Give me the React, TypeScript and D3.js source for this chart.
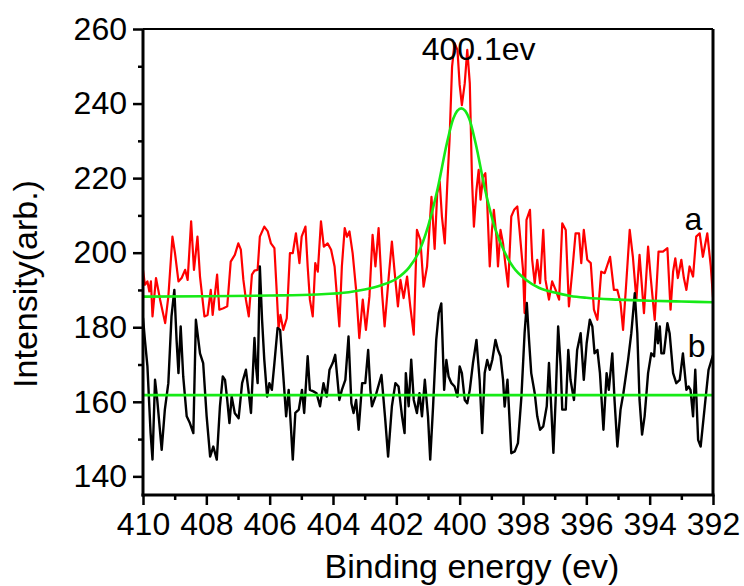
import React, { useEffect, useRef } from 'react';
import * as d3 from 'd3';

// binding energy (eV) vs intensity
const xTicks = [410, 408, 406, 404, 402, 400, 398, 396, 394, 392];
const xMinorTicks = [409, 407, 405, 403, 401, 399, 397, 395, 393];
const yTicks = [140, 160, 180, 200, 220, 240, 260];
const yMinorTicks = [150, 170, 190, 210, 230, 250];

const seriesA: [number, number][] = [
  [410.0, 195.4], [409.94, 191.4], [409.86, 192.3], [409.8, 189.6], [409.75, 192.3], [409.7, 182.9],
  [409.59, 193.2], [409.46, 187.4], [409.3, 181.1], [409.2, 188.2], [409.07, 204.3], [408.99, 199.9],
  [408.88, 192.3], [408.78, 193.2], [408.67, 195.4], [408.59, 192.7], [408.48, 208.4], [408.39, 195.4],
  [408.28, 204.3], [408.2, 193.6], [408.06, 182.9], [407.96, 183.3], [407.86, 190], [407.8, 183.3],
  [407.66, 194.1], [407.59, 184.7], [407.46, 185.1], [407.34, 185.6], [407.23, 197.6], [407.1, 199.4],
  [406.99, 202.5], [406.91, 200.8], [406.83, 192.7], [406.75, 187.4], [406.66, 182.9], [406.56, 194.1],
  [406.48, 195.2], [406.38, 195.4], [406.31, 204.3], [406.17, 207], [406.06, 205.7], [405.96, 202.5],
  [405.85, 201.2], [405.78, 190], [405.72, 179.8], [405.66, 183.3], [405.57, 179.3], [405.46, 182.4],
  [405.36, 199.9], [405.27, 199.9], [405.17, 205.2], [405.06, 197.2], [404.99, 204.3], [404.87, 207],
  [404.8, 196.3], [404.73, 187.4], [404.64, 182.9], [404.56, 197.2], [404.48, 194.9], [404.38, 208.4],
  [404.29, 201.6], [404.17, 202.5], [404.06, 200.8], [403.95, 196.3], [403.8, 180.2], [403.72, 196.3],
  [403.63, 206.6], [403.56, 204.3], [403.48, 205.7], [403.38, 199.9], [403.27, 190], [403.17, 177.1],
  [403.06, 187.4], [402.96, 179.3], [402.85, 188.2], [402.75, 204.8], [402.66, 196.3], [402.56, 206.6],
  [402.45, 189.1], [402.37, 180.2], [402.24, 193.6], [402.14, 203], [402.06, 195.4], [401.95, 185.6],
  [401.87, 192.7], [401.77, 187.8], [401.66, 193.6], [401.56, 185.6], [401.45, 178], [401.35, 206.1],
  [401.24, 203.4], [401.14, 190.9], [401.03, 196.3], [400.93, 209.7], [400.89, 215], [400.79, 201],
  [400.71, 215.9], [400.63, 219], [400.56, 209.7], [400.47, 202.5], [400.39, 218.6], [400.32, 230.2],
  [400.24, 249.9], [400.16, 256.2], [400.07, 254.4], [400.0, 245], [399.93, 239.6], [399.84, 245.4],
  [399.76, 254.4], [399.68, 245.4], [399.61, 219.5], [399.55, 207], [399.47, 216.8], [399.4, 222.2],
  [399.34, 214.2], [399.26, 220.4], [399.19, 221.3], [399.13, 213.3], [399.05, 196.3], [398.98, 206.1],
  [398.92, 211.5], [398.84, 204.3], [398.79, 196.3], [398.71, 206.1], [398.63, 202.5], [398.56, 197.2],
  [398.47, 190.9], [398.37, 209.7], [398.28, 211.5], [398.18, 212.4], [398.11, 206.1], [398.0, 195.4],
  [397.95, 183.8], [397.89, 208.8], [397.78, 211.5], [397.71, 198.1], [397.63, 191.8], [397.55, 198.1],
  [397.46, 191.8], [397.36, 206.1], [397.29, 192.7], [397.18, 187.4], [397.08, 192.3], [396.97, 190],
  [396.86, 187.4], [396.76, 207.9], [396.65, 206.1], [396.55, 185.6], [396.44, 195.4], [396.34, 205.2],
  [396.23, 205.2], [396.16, 197.2], [396.08, 206.1], [395.97, 198.1], [395.86, 197.2], [395.76, 184.7],
  [395.65, 182], [395.53, 194.9], [395.42, 194.5], [395.25, 198.9], [395.13, 190], [395.02, 190],
  [394.92, 186.5], [394.84, 179.3], [394.74, 191.8], [394.63, 206.1], [394.53, 198.9], [394.42, 187.4],
  [394.32, 199.4], [394.18, 183.8], [394.05, 201.6], [393.97, 193.6], [393.84, 182], [393.72, 200.3],
  [393.58, 200.3], [393.44, 201.2], [393.34, 184.7], [393.26, 194.9], [393.19, 198.5], [393.11, 193.2],
  [393.0, 198.1], [392.92, 193.2], [392.84, 190], [392.74, 196.3], [392.63, 193.6], [392.53, 204.3],
  [392.42, 205.2], [392.32, 198.9], [392.18, 205.2], [392.07, 196.3], [392.0, 188],
];

const seriesB: [number, number][] = [
  [410.0, 182.5], [409.94, 176.6], [409.86, 169.5], [409.76, 151.6], [409.7, 144.5], [409.62, 165.9],
  [409.55, 160.5], [409.41, 147.1], [409.31, 157.9], [409.2, 165], [409.1, 182.9], [409.01, 190],
  [408.94, 176.6], [408.88, 167.7], [408.81, 180.2], [408.73, 166.8], [408.62, 156.1], [408.52, 154.3],
  [408.41, 151.6], [408.33, 182], [408.2, 173], [408.1, 170.4], [407.99, 156.1], [407.88, 145.3],
  [407.78, 148], [407.67, 144.5], [407.57, 158.8], [407.48, 166.8], [407.41, 165.9], [407.34, 160.5],
  [407.27, 154.3], [407.2, 161.4], [407.1, 156.9], [406.98, 155.6], [406.87, 165], [406.75, 168.6],
  [406.66, 162.3], [406.59, 157], [406.48, 177.1], [406.43, 169.5], [406.38, 165], [406.31, 196.3],
  [406.24, 182], [406.17, 171.3], [406.08, 161.4], [406.01, 165], [405.93, 163.2], [405.85, 170.4],
  [405.75, 179.8], [405.67, 179.3], [405.59, 169.5], [405.48, 156.1], [405.4, 163.2], [405.33, 153.4],
  [405.27, 144.5], [405.19, 157], [405.08, 157.9], [404.98, 163.2], [404.91, 157], [404.8, 172.2],
  [404.73, 163.2], [404.62, 162.8], [404.52, 162.3], [404.41, 158.8], [404.3, 165], [404.2, 161.4],
  [404.11, 168.6], [404.01, 170.4], [403.93, 172.6], [403.8, 160.5], [403.72, 163.2], [403.61, 165.9],
  [403.51, 177.5], [403.42, 159.6], [403.35, 157], [403.27, 160.5], [403.19, 152.5], [403.08, 165],
  [402.98, 165], [402.89, 173.9], [402.82, 163.2], [402.77, 158.8], [402.66, 161.4], [402.47, 167.2],
  [402.35, 155.2], [402.26, 145.3], [402.14, 158.8], [402.03, 165], [401.93, 164.1], [401.82, 156.1],
  [401.74, 151.6], [401.7, 167.7], [401.61, 158.8], [401.53, 171.3], [401.45, 160.5], [401.35, 157],
  [401.27, 162.3], [401.19, 156.1], [401.1, 165.9], [401.0, 156.1], [400.93, 144.5], [400.84, 158.7],
  [400.74, 176.6], [400.66, 183.8], [400.58, 186.4], [400.49, 163.2], [400.42, 171.2], [400.35, 166.8],
  [400.26, 165], [400.16, 164.1], [400.07, 161.4], [400.0, 169.5], [399.93, 167.7], [399.84, 160.5],
  [399.76, 159.6], [399.68, 163.2], [399.58, 170.4], [399.47, 176.6], [399.37, 165.9], [399.29, 151.6],
  [399.21, 167.7], [399.13, 171.2], [399.05, 168.6], [398.97, 171.2], [398.87, 176.6], [398.79, 173.9],
  [398.71, 172.2], [398.63, 165.9], [398.58, 158.7], [398.49, 165.9], [398.42, 154.3], [398.37, 146.2],
  [398.26, 146.7], [398.16, 148.9], [398.05, 161.4], [397.95, 178.4], [397.88, 186.5], [397.81, 176.6],
  [397.74, 167.7], [397.63, 162.3], [397.55, 156.1], [397.46, 152.5], [397.36, 153.4], [397.25, 158.8],
  [397.18, 170.4], [397.11, 158.8], [397.04, 146.3], [396.97, 160.5], [396.89, 180.2], [396.81, 169.5],
  [396.76, 157.9], [396.65, 157.9], [396.57, 173.9], [396.5, 165.9], [396.39, 160.5], [396.29, 173.9],
  [396.18, 178.4], [396.08, 165.9], [395.99, 175.7], [395.89, 182], [395.81, 180.2], [395.74, 173],
  [395.65, 173.9], [395.57, 167.7], [395.46, 152.5], [395.36, 167.7], [395.29, 163.2], [395.18, 173],
  [395.11, 160.5], [395.02, 148], [394.92, 157.9], [394.83, 162.3], [394.68, 171.3], [394.58, 178.4],
  [394.47, 189.1], [394.39, 178.4], [394.32, 160.5], [394.24, 151.2], [394.16, 156.1], [394.05, 167.7],
  [393.95, 173], [393.86, 172.2], [393.79, 181.1], [393.74, 175.7], [393.68, 180.2], [393.63, 173],
  [393.55, 173], [393.44, 181.1], [393.37, 178.4], [393.26, 167.7], [393.16, 165], [393.05, 165.9],
  [392.95, 173], [392.84, 163.2], [392.77, 164.1], [392.71, 163.2], [392.63, 156.1], [392.56, 168.6],
  [392.47, 149.8], [392.39, 148], [392.26, 158.8], [392.14, 168.6], [392.0, 172.5],
];

// fitted peak curve over series a (read at points along the green line)
const fitA: [number, number][] = [
  [410, 188.2], [408, 188.3], [406, 188.5], [404.5, 188.8], [403.5, 189.4], [403, 190.1], [402.5, 191.2],
  [402, 193], [401.6, 196], [401.3, 200], [401, 207], [400.7, 217], [400.4, 229.5], [400.2, 236],
  [399.95, 238.7], [399.7, 236], [399.5, 229.5], [399.2, 217], [398.9, 207], [398.6, 200.5],
  [398.3, 196], [397.9, 192.7], [397.5, 190.6], [397, 189.3], [396.5, 188.4], [396, 187.9],
  [395, 187.4], [394, 187.1], [393, 186.9], [392, 186.7],
];
const fitB: [number, number][] = [[410, 161.8], [392, 161.8]];

const annotations = [
  { text: '400.1ev', x: 401.2, y: 251.7, anchor: 'start' },
  { text: 'a', x: 392.62, y: 206.1, anchor: 'middle' },
  { text: 'b', x: 392.52, y: 172.1, anchor: 'middle' },
];

const width = 744;
const height = 586;
const margin = { left: 143, right: 31, top: 29, bottom: 91 };
const font = '"Liberation Sans", Arial, sans-serif';

export default function App() {
  const ref = useRef<SVGSVGElement>(null);

  useEffect(() => {
    const svg = d3.select(ref.current);
    svg.selectAll('*').remove();

    const x = d3.scaleLinear().domain([410, 392]).range([margin.left, width - margin.right]);
    const y = d3.scaleLinear().domain([135, 260]).range([height - margin.bottom, margin.top]);

    svg.append('defs').append('clipPath').attr('id', 'plot')
      .append('rect')
      .attr('x', margin.left).attr('y', margin.top)
      .attr('width', width - margin.left - margin.right)
      .attr('height', height - margin.top - margin.bottom);

    const line = d3.line<[number, number]>().x(d => x(d[0])).y(d => y(d[1]));
    const smooth = d3.line<[number, number]>().x(d => x(d[0])).y(d => y(d[1])).curve(d3.curveMonotoneX);

    const plot = svg.append('g').attr('clip-path', 'url(#plot)');
    plot.append('path').datum(seriesA).attr('d', line)
      .attr('fill', 'none').attr('stroke', '#ff0000').attr('stroke-width', 2.2).attr('stroke-linejoin', 'round');
    plot.append('path').datum(seriesB).attr('d', line)
      .attr('fill', 'none').attr('stroke', '#000').attr('stroke-width', 2.4).attr('stroke-linejoin', 'round');
    plot.append('path').datum(fitA).attr('d', smooth)
      .attr('fill', 'none').attr('stroke', '#16ea16').attr('stroke-width', 2.6);
    plot.append('path').datum(fitB).attr('d', line)
      .attr('fill', 'none').attr('stroke', '#16ea16').attr('stroke-width', 2.6);

    // axes: major + minor ticks
    const bottom = height - margin.bottom;
    const xAxis = svg.append('g').attr('transform', `translate(0, ${bottom})`)
      .call(d3.axisBottom(x).tickValues(xTicks).tickSize(10).tickPadding(7).tickFormat(d3.format('d')));
    svg.append('g').attr('transform', `translate(0, ${bottom})`)
      .call(d3.axisBottom(x).tickValues(xMinorTicks).tickSize(5).tickFormat(() => ''));
    const yAxis = svg.append('g').attr('transform', `translate(${margin.left}, 0)`)
      .call(d3.axisLeft(y).tickValues(yTicks).tickSize(10).tickPadding(6).tickFormat(d3.format('d')));
    svg.append('g').attr('transform', `translate(${margin.left}, 0)`)
      .call(d3.axisLeft(y).tickValues(yMinorTicks).tickSize(5).tickFormat(() => ''));

    svg.selectAll('.domain').remove();
    svg.selectAll('.tick line').attr('stroke', '#000').attr('stroke-width', 2.5);
    [xAxis, yAxis].forEach(a => a.selectAll('text')
      .attr('font-family', font).attr('font-size', 32).attr('fill', '#000'));

    // frame
    const frame = svg.append('g').attr('stroke', '#000').attr('fill', 'none');
    frame.append('line').attr('x1', margin.left).attr('x2', width - margin.right)
      .attr('y1', margin.top).attr('y2', margin.top).attr('stroke-width', 2);
    frame.append('line').attr('x1', width - margin.right).attr('x2', width - margin.right)
      .attr('y1', margin.top).attr('y2', bottom).attr('stroke-width', 3);
    frame.append('line').attr('x1', margin.left).attr('x2', margin.left)
      .attr('y1', margin.top).attr('y2', bottom + 1.5).attr('stroke-width', 3);
    frame.append('line').attr('x1', margin.left - 1.5).attr('x2', width - margin.right + 1.5)
      .attr('y1', bottom).attr('y2', bottom).attr('stroke-width', 3);

    // axis titles
    svg.append('text')
      .attr('x', 472).attr('y', 578)
      .attr('text-anchor', 'middle')
      .attr('font-family', font).attr('font-size', 34)
      .text('Binding energy (ev)');
    svg.append('text')
      .attr('transform', 'translate(37, 284) rotate(-90)')
      .attr('text-anchor', 'middle')
      .attr('font-family', font).attr('font-size', 34)
      .text('Intensity(arb.)');

    // labels in the plot
    svg.selectAll('.note').data(annotations).enter()
      .append('text')
      .attr('class', 'note')
      .attr('x', d => x(d.x)).attr('y', d => y(d.y))
      .attr('text-anchor', d => d.anchor)
      .attr('font-family', font).attr('font-size', 32)
      .text(d => d.text);
  }, []);

  return (
    <svg ref={ref} width={width} height={height}
      style={{ position: 'absolute', left: 0, top: 0, background: '#fff' }} />
  );
}
